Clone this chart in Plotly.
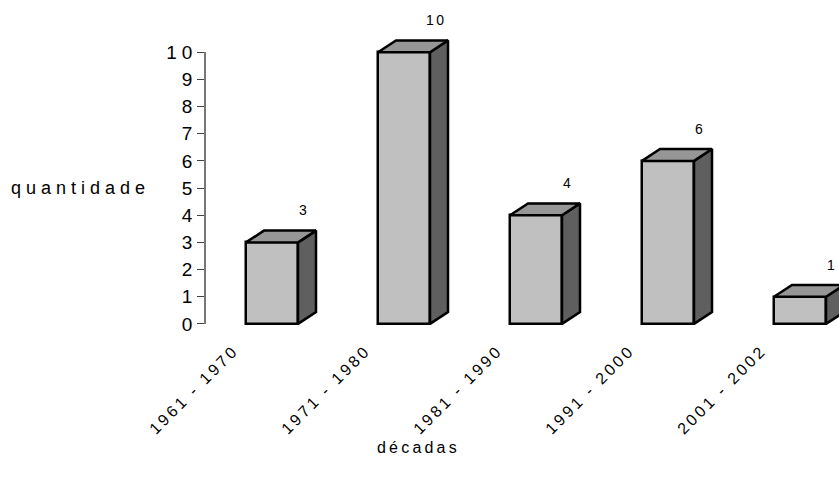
import plotly.graph_objects as go

categories = ["1961 - 1970", "1971 - 1980", "1981 - 1990", "1991 - 2000", "2001 - 2002"]
values = [3, 10, 4, 6, 1]
y_ticks = list(range(0, 11))

W, H = 839, 484
ML, MR, MT, MB = 206, 0, 5, 156
unit_x = 132.0
unit_y = 27.6
plot_w = W - ML - MR
plot_h = H - MT - MB
y0 = -0.15
y1 = y0 + plot_h / unit_y
x_range = [-0.5, -0.5 + plot_w / unit_x]

half_w = 26 / unit_x
dx = 18 / unit_x
dy = 12 / unit_y

FONT = "Liberation Sans, Arial, Helvetica, sans-serif"
FRONT, TOP, SIDE = "#c0c0c0", "#969696", "#5f5f5f"


def spaced(t, ls):
    return f'<span style="letter-spacing:{ls}px">{t}</span>'


def px_to_paper_x(px):
    return (px - ML) / plot_w


def px_to_paper_y(py):
    return (H - MB - py) / plot_h


xs_top, ys_top, xs_side, ys_side = [], [], [], []
for i, v in enumerate(values):
    xs_top += [i - half_w, i - half_w + dx, i + half_w + dx, i + half_w, i - half_w, None]
    ys_top += [v, v + dy, v + dy, v, v, None]
    xs_side += [i + half_w, i + half_w + dx, i + half_w + dx, i + half_w, i + half_w, None]
    ys_side += [0, dy, v + dy, v, 0, None]

fig = go.Figure()
fig.add_trace(go.Scatter(x=xs_side, y=ys_side, xaxis="x", yaxis="y2", mode="lines",
                         fill="toself", fillcolor=SIDE, line=dict(color="black", width=2.5),
                         hoverinfo="skip", showlegend=False))
fig.add_trace(go.Scatter(x=xs_top, y=ys_top, xaxis="x", yaxis="y2", mode="lines",
                         fill="toself", fillcolor=TOP, line=dict(color="black", width=2.5),
                         hoverinfo="skip", showlegend=False))
fig.add_trace(go.Bar(x=list(range(len(values))), y=values, xaxis="x", yaxis="y2",
                     width=2 * half_w, marker=dict(color=FRONT, line=dict(color="black", width=2.5)),
                     hoverinfo="skip", showlegend=False))
# invisible trace to hold the visible y axis
fig.add_trace(go.Scatter(x=list(range(len(values))), y=[None] * len(values), xaxis="x", yaxis="y",
                         mode="markers", hoverinfo="skip", showlegend=False))

for i, v in enumerate(values):
    fig.add_annotation(x=i, y=v, xref="x", yref="y2", text=spaced(str(v), 2.5), showarrow=False,
                       xshift=32, yshift=32, xanchor="center", yanchor="middle",
                       font=dict(family=FONT, size=14, color="black"))

fig.add_annotation(x=px_to_paper_x(152), xref="paper", y=5, yref="y", text=spaced("quantidade", 5),
                   showarrow=False, xanchor="right", yanchor="middle",
                   font=dict(family=FONT, size=18, color="black"))
fig.add_annotation(x=px_to_paper_x(418), xref="paper", y=px_to_paper_y(449), yref="paper",
                   text=spaced("décadas", 3.2), showarrow=False, xanchor="center", yanchor="middle",
                   font=dict(family=FONT, size=16, color="black"))

fig.update_layout(
    width=W, height=H,
    margin=dict(l=ML, r=MR, t=MT, b=MB, pad=0),
    paper_bgcolor="white", plot_bgcolor="white",
    font=dict(family=FONT, color="black"),
    xaxis=dict(range=x_range, anchor="y", showgrid=False, zeroline=False, showline=False,
               tickmode="array", tickvals=list(range(len(categories))),
               ticktext=[spaced(c, 3) for c in categories], tickangle=-45,
               ticks="", ticklabelshift=-38, ticklabelstandoff=13,
               tickfont=dict(family=FONT, size=16, color="black")),
    yaxis=dict(domain=[(0 - y0) * unit_y / plot_h, (10 - y0) * unit_y / plot_h], range=[0, 10],
               anchor="x", showgrid=False, zeroline=False, showline=True, linecolor="#777777",
               linewidth=1.5, ticks="outside", ticklen=7, tickcolor="#444444", tickwidth=1,
               tickmode="array", tickvals=y_ticks, ticktext=[spaced(str(t), 5) for t in y_ticks],
               ticklabelstandoff=-4,
               tickfont=dict(family=FONT, size=19, color="black")),
    yaxis2=dict(domain=[0, 1], range=[y0, y1], anchor="x", visible=False, showgrid=False),
    bargap=0,
)

fig.write_html("out.html", config={"displayModeBar": False},
               post_script="document.body.style.margin='0';document.body.style.overflow='hidden';")
